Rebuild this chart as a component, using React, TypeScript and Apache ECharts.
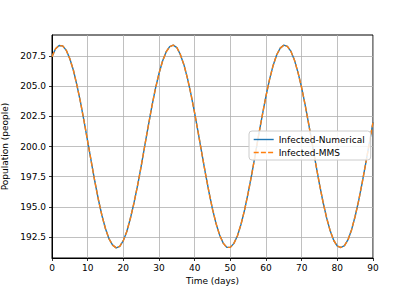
import { useEffect, useRef } from "react";
import * as echarts from "echarts";

const days = [0, 1, 2, 3, 4, 5, 6, 7, 8, 9, 10, 11, 12, 13, 14, 15, 16, 17, 18, 19, 20, 21, 22, 23, 24, 25, 26, 27, 28, 29, 30, 31, 32, 33, 34, 35, 36, 37, 38, 39, 40, 41, 42, 43, 44, 45, 46, 47, 48, 49, 50, 51, 52, 53, 54, 55, 56, 57, 58, 59, 60, 61, 62, 63, 64, 65, 66, 67, 68, 69, 70, 71, 72, 73, 74, 75, 76, 77, 78, 79, 80, 81, 82, 83, 84, 85, 86, 87, 88, 89, 90];
const infectedNumerical = [
  207.45, 208.10, 208.37, 208.34, 207.97, 207.27, 206.32, 205.06, 203.66, 202.09, 200.43,
  198.76, 197.12, 195.61, 194.28, 193.18, 192.34, 191.83, 191.60, 191.73, 192.20, 192.98,
  194.07, 195.34, 196.78, 198.36, 200.06, 201.71, 203.33, 204.80, 206.05, 207.08, 207.84,
  208.27, 208.40, 208.20, 207.61, 206.76, 205.63, 204.28, 202.77, 201.13, 199.45, 197.80,
  196.23, 194.81, 193.61, 192.66, 191.99, 191.64, 191.64, 191.97, 192.60, 193.56, 194.75,
  196.16, 197.69, 199.35, 201.04, 202.65, 204.19, 205.56, 206.72, 207.60, 208.15, 208.40,
  208.30, 207.88, 207.14, 206.10, 204.86, 203.40, 201.81, 200.15, 198.47, 196.87, 195.38,
  194.08, 193.01, 192.21, 191.75, 191.63, 191.79, 192.28, 193.11, 194.22, 195.54, 197.05,
  198.66, 200.33, 202.01,
];
const infectedMMS = [
  207.45, 208.10, 208.37, 208.34, 207.97, 207.27, 206.32, 205.06, 203.66, 202.09, 200.43,
  198.76, 197.12, 195.61, 194.28, 193.18, 192.34, 191.83, 191.60, 191.73, 192.20, 192.98,
  194.07, 195.34, 196.78, 198.36, 200.06, 201.71, 203.33, 204.80, 206.05, 207.08, 207.84,
  208.27, 208.40, 208.20, 207.61, 206.76, 205.63, 204.28, 202.77, 201.13, 199.45, 197.80,
  196.23, 194.81, 193.61, 192.66, 191.99, 191.64, 191.64, 191.97, 192.60, 193.56, 194.75,
  196.16, 197.69, 199.35, 201.04, 202.65, 204.19, 205.56, 206.72, 207.60, 208.15, 208.40,
  208.30, 207.88, 207.14, 206.10, 204.86, 203.40, 201.81, 200.15, 198.47, 196.87, 195.38,
  194.08, 193.01, 192.21, 191.75, 191.63, 191.79, 192.28, 193.11, 194.22, 195.54, 197.05,
  198.66, 200.33, 202.01,
];
const yTicks = [192.5, 195.0, 197.5, 200.0, 202.5, 205.0, 207.5];
const seriesNames = ["Infected-Numerical", "Infected-MMS"];

const FONT = "DejaVu Sans";

export default function App() {
  const ref = useRef<HTMLDivElement>(null);
  useEffect(() => {
    const chart = echarts.init(ref.current!, null, { renderer: "svg" });
    chart.setOption({
      animation: false,
      backgroundColor: "#ffffff",
      grid: {
        left: 52,
        right: 42,
        top: 35,
        bottom: 32,
        containLabel: false,
        outerBoundsMode: "none",
        show: true,
        borderColor: "#000000",
        borderWidth: 1,
        backgroundColor: "transparent",
      },
      legend: {
        orient: "vertical",
        left: 249,
        top: 131,
        padding: [4, 6, 3, 4],
        itemWidth: 20,
        itemHeight: 9,
        itemGap: 4,
        backgroundColor: "rgba(255,255,255,0.85)",
        borderColor: "#cccccc",
        borderWidth: 1,
        borderRadius: 3,
        itemStyle: { opacity: 0 },
        lineStyle: { width: 1.4, color: "inherit", type: "inherit", opacity: "inherit" },
        textStyle: { fontFamily: FONT, fontSize: 9, color: "#000" },
        data: seriesNames,
      },
      xAxis: {
        type: "value",
        min: 0,
        max: 90,
        interval: 10,
        name: "Time (days)",
        nameLocation: "middle",
        nameGap: 14,
        nameTextStyle: { fontFamily: FONT, fontSize: 9, color: "#000" },
        axisLine: { show: true, onZero: false, lineStyle: { color: "#000", width: 1 } },
        axisTick: { show: true, length: 3, lineStyle: { color: "#000", width: 0.8 } },
        axisLabel: { fontFamily: FONT, fontSize: 9, color: "#000", margin: 5 },
        splitLine: { show: true, lineStyle: { color: "#b0b0b0", width: 0.8 } },
      },
      yAxis: {
        type: "value",
        min: 190.76,
        max: 209.24,
        name: "Population (people)",
        nameLocation: "middle",
        nameGap: 30,
        nameTextStyle: { fontFamily: FONT, fontSize: 9, color: "#000" },
        axisLine: { show: true, onZero: false, lineStyle: { color: "#000", width: 1 } },
        axisTick: { show: true, length: 3, customValues: yTicks, lineStyle: { color: "#000", width: 0.8 } },
        axisLabel: {
          fontFamily: FONT,
          fontSize: 9,
          color: "#000",
          margin: 6,
          customValues: yTicks,
          formatter: (v: number) => v.toFixed(1),
        },
        splitLine: { show: true, lineStyle: { color: "#b0b0b0", width: 0.8 } },
      },
      series: [
        {
          name: seriesNames[0],
          type: "line",
          data: days.map((d, i) => [d, infectedNumerical[i]]),
          smooth: false,
          symbol: "none",
          lineStyle: { color: "#1f77b4", width: 1.4 },
          itemStyle: { color: "#1f77b4" },
        },
        {
          name: seriesNames[1],
          type: "line",
          data: days.map((d, i) => [d, infectedMMS[i]]),
          smooth: false,
          symbol: "none",
          lineStyle: { color: "#ff7f0e", width: 1.4, type: [5, 2.2] },
          itemStyle: { color: "#ff7f0e" },
        },
      ],
    });
    return () => chart.dispose();
  }, []);
  return <div ref={ref} style={{ width: 415, height: 290, position: "absolute", left: 0, top: 0 }} />;
}
